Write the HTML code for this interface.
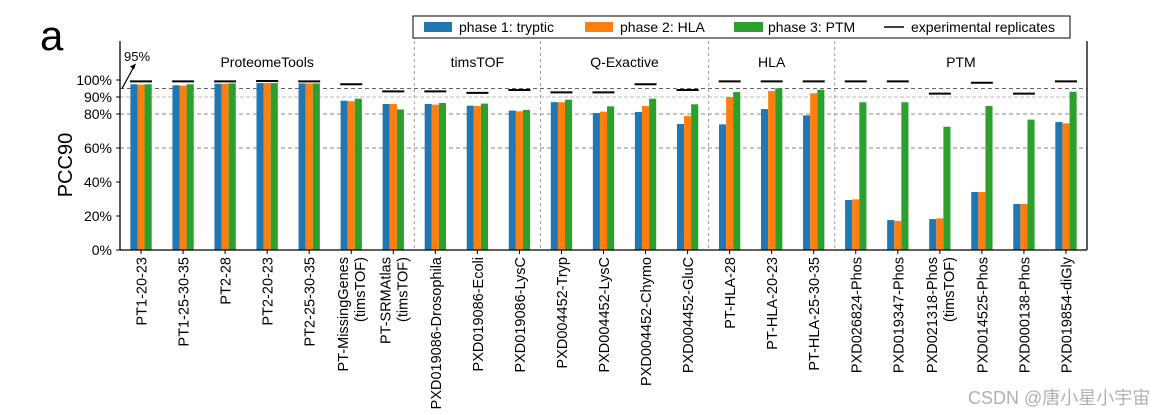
<!DOCTYPE html>
<html><head><meta charset="utf-8"><style>
body{margin:0;background:#fff;}
svg{display:block;font-family:"Liberation Sans",Arial,sans-serif;}
</style></head><body>
<svg id="chart" width="1174" height="415" viewBox="0 0 1174 415">
<text x="40" y="50" font-size="42">a</text>
<text transform="translate(72,165) rotate(-90)" text-anchor="middle" font-size="20">PCC90</text>
<g id="grid"></g><g id="bars"></g><g id="axes"></g>
<g>
<rect x="413" y="16" width="657" height="22" fill="#fff" stroke="#000" stroke-width="1"/>
<rect x="424" y="22" width="28" height="10" fill="#1f77b4"/>
<text x="459" y="32" font-size="14">phase 1: tryptic</text>
<rect x="585" y="22" width="28" height="10" fill="#ff7f0e"/>
<text x="620" y="32" font-size="14">phase 2: HLA</text>
<rect x="734" y="22" width="29" height="10" fill="#2ca02c"/>
<text x="768" y="32" font-size="14">phase 3: PTM</text>
<line x1="884" y1="27" x2="904" y2="27" stroke="#000" stroke-width="1.5"/>
<text x="911" y="32" font-size="14">experimental replicates</text>
</g>
<text x="968" y="404" font-size="18" fill="#b0b0b0" font-family="'Liberation Sans','Noto Sans CJK SC',sans-serif">CSDN @唐小星小宇宙</text>
</svg>
<script>
const categories=["PT1-20-23","PT1-25-30-35","PT2-28","PT2-20-23","PT2-25-30-35","PT-MissingGenes\n(timsTOF)","PT-SRMAtlas\n(timsTOF)","PXD019086-Drosophila","PXD019086-Ecoli","PXD019086-LysC","PXD004452-Tryp","PXD004452-LysC","PXD004452-Chymo","PXD004452-GluC","PT-HLA-28","PT-HLA-20-23","PT-HLA-25-30-35","PXD026824-Phos","PXD019347-Phos","PXD021318-Phos\n(timsTOF)","PXD014525-Phos","PXD000138-Phos","PXD019854-diGly"];
const phase1=[97.5,96.9,97.8,98.2,98,87.8,85.9,85.9,84.9,82,87,80.6,81.2,74.1,73.9,82.9,79.2,29.4,17.6,18.2,34.1,27.1,75.3];
const phase2=[97.3,96.7,97.8,98.2,98,87.5,85.9,85.5,84.7,81.6,86.9,81.4,84.7,78.8,90,93.5,92.2,29.8,17.1,18.6,34.1,27.1,74.5];
const phase3=[97.5,97.5,98,98.2,98,89,82.7,86.5,86.1,82.4,88.4,84.5,89,85.7,92.9,95.1,94.3,86.9,86.9,72.5,84.7,76.7,93.1];
const replicates=[99.2,99.2,99.2,99.4,99.2,97.5,93.3,93.3,92.4,94.1,92.7,92.7,97.5,94.1,99.2,99.2,99.2,99.2,99.2,92,98.4,92,99.2];
const yTicks=[0,20,40,60,80,90,100];
const groupNames=["ProteomeTools","timsTOF","Q-Exactive","HLA","PTM"];
const groupStart=[0,7,10,14,17];
const groupEnd=[6,9,13,16,22];

const NS="http://www.w3.org/2000/svg";
const L=120,R=1087,T=41,B=250;
const x=i=>L+(i+0.5)*(R-L)/23;
const y=v=>B-(v/100)*170;
function mk(p,tag,at){const e=document.createElementNS(NS,tag);for(const k in at)e.setAttribute(k,at[k]);p.appendChild(e);return e;}
const grid=document.getElementById('grid'),bars=document.getElementById('bars'),axes=document.getElementById('axes');
[[60,'#888','4,3'],[80,'#888','4,3'],[90,'#bbb','4,2'],[95,'#666','4,3']].forEach(g=>{
 const l=mk(grid,'line',{x1:L,x2:R,y1:y(g[0]),y2:y(g[0]),stroke:g[1],'stroke-width':1,'stroke-dasharray':g[2]});
 
 
});
for(let k=1;k<groupStart.length;k++){
 const xv=(x(groupStart[k]-1)+x(groupStart[k]))/2;
 const l=mk(grid,'line',{x1:xv,x2:xv,y1:T,y2:B,stroke:'#999','stroke-width':1,'stroke-dasharray':'3,3'});
 
 
}
groupNames.forEach((n,k)=>{
 const t=mk(grid,'text',{x:(x(groupStart[k])+x(groupEnd[k]))/2,y:67,'text-anchor':'middle','font-size':14});
 t.textContent=n;
 
 
});
const bw=7.1,cols=['#1f77b4','#ff7f0e','#2ca02c'],series=[phase1,phase2,phase3];
categories.forEach((c,i)=>{
 series.forEach((s,j)=>{
  const r=mk(bars,'rect',{x:x(i)+(j-1.5)*bw,y:y(s[i]),width:bw,height:B-y(s[i]),fill:cols[j]});
  
  
 });
 const rl=mk(bars,'line',{x1:x(i)-11,x2:x(i)+11,y1:y(replicates[i]),y2:y(replicates[i]),stroke:'#000','stroke-width':2});
 
 
 mk(axes,'line',{x1:x(i),x2:x(i),y1:B,y2:B+4,stroke:'#000'});
 const lines=c.split('\n');
 lines.forEach((ln,k)=>{
  const off=(k-(lines.length-1)/2)*17;
  const t=mk(axes,'text',{transform:`translate(${x(i)+off+5.5},257) rotate(-90)`,'text-anchor':'end','font-size':14.5});
  t.textContent=ln;
  
  
 });
});
yTicks.forEach(v=>{
 mk(axes,'line',{x1:L-4,x2:L,y1:y(v),y2:y(v),stroke:'#000'});
 const t=mk(axes,'text',{x:L-8,y:y(v)+5,'text-anchor':'end','font-size':14});
 t.textContent=v+'%';
 
 
});
mk(axes,'line',{x1:L,x2:L,y1:T,y2:B,stroke:'#000','stroke-width':1.3});
mk(axes,'line',{x1:R,x2:R,y1:T,y2:B,stroke:'#000','stroke-width':1.3});
mk(axes,'line',{x1:L,x2:R,y1:B,y2:B,stroke:'#000','stroke-width':1.3});
mk(axes,'line',{x1:L+2,x2:L+14,y1:y(95),y2:y(95)-22,stroke:'#000','stroke-width':1.2});
mk(axes,'path',{d:`M${L+16},${y(95)-25} l-6,3 l4,3 z`,fill:'#000'});
const a=mk(axes,'text',{x:L+4,y:61,'font-size':13});
a.textContent='95%';


</script>
</body></html>
